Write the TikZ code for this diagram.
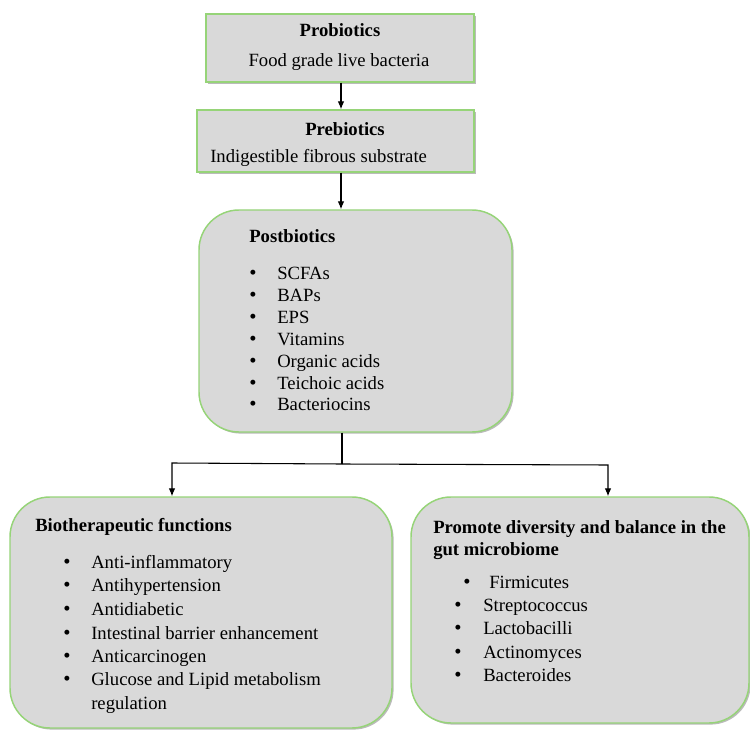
\documentclass[tikz,border=0pt]{standalone}
\usepackage{fontspec}
\setmainfont{Liberation Serif}
\usetikzlibrary{arrows.meta,shadows}
\definecolor{boxfill}{RGB}{217,217,217}
\definecolor{boxline}{RGB}{150,212,120}
\begin{document}
\begin{tikzpicture}[x=0.75pt,y=-0.75pt,
  box/.style={draw=boxline,line width=1.1pt,fill=boxfill,inner sep=0pt,
    drop shadow={shadow xshift=1.2pt,shadow yshift=-1.2pt,fill=black!45,opacity=0.6}},
  rbox/.style={box,rounded corners=30pt},
  txt/.style={inner sep=0pt,font=\fontsize{14}{16}\selectfont,text height=12pt,text depth=3pt},
  ttl/.style={txt,font=\fontsize{14}{16}\selectfont\bfseries},
  bul/.style={txt,font=\fontsize{15.5}{16}\selectfont},
  conn/.style={draw=black,line width=0.8pt},
  arr/.style={conn,-{Latex[length=6pt,width=5pt]}}]
\useasboundingbox[fill=white] (0,0) rectangle (750,731);

% boxes
\node[box,minimum width=201pt,minimum height=51pt] (pro) at (340,48) {};
\node[box,minimum width=207.75pt,minimum height=46.5pt] (pre) at (335.5,141) {};
\node[rbox,minimum width=234.75pt,minimum height=166.5pt] (post) at (355.5,321) {};
\node[rbox,minimum width=286.5pt,minimum height=173.25pt] (left) at (201,612.5) {};
\node[rbox,minimum width=253.5pt,minimum height=169.5pt] (right) at (580,610) {};

% texts
\node[ttl] (t1) at (340,31) {Probiotics};
\node[txt] (t2) at (339,61) {Food grade live bacteria};
\node[ttl] (t3) at (345,130) {Prebiotics};
\node[txt,anchor=west] (t4) at (210,157) {Indigestible fibrous substrate};
\node[ttl,anchor=west] (t5) at (249,237) {Postbiotics};
\foreach \y/\t [count=\i] in {273/SCFAs,295/BAPs,317/EPS,339/Vitamins,361/Organic acids,383/Teichoic acids,404/Bacteriocins}{
  \node[bul] (pb\i) at (253,\y) {\textbullet};
  \node[txt,anchor=west] (pt\i) at (277,\y) {\t};
}
\node[ttl,anchor=west] (t6) at (35,525) {Biotherapeutic functions};
\foreach \y/\t [count=\i] in {562/Anti-inflammatory,585/Antihypertension,609/Antidiabetic,633/Intestinal barrier enhancement,656/Anticarcinogen,679/Glucose and Lipid metabolism}{
  \node[bul] (lb\i) at (67,\y) {\textbullet};
  \node[txt,anchor=west] (lt\i) at (91,\y) {\t};
}
\node[txt,anchor=west] (lt7) at (91,703) {regulation};
\node[ttl,anchor=west] (t7) at (433,527) {Promote diversity and balance in the};
\node[ttl,anchor=west] (t8) at (433,549) {gut microbiome};
\node[bul] (rb1) at (467,582) {\textbullet};
\node[txt,anchor=west] (rt1) at (489,582) {Firmicutes};
\foreach \y/\t [count=\i from 2] in {605/Streptococcus,628/Lactobacilli,652/Actinomyces,675/Bacteroides}{
  \node[bul] (rb\i) at (458,\y) {\textbullet};
  \node[txt,anchor=west] (rt\i) at (483,\y) {\t};
}

% connectors
\coordinate (c1) at (341,0);
\coordinate (j) at (342,464);
\coordinate (la) at (172,463);
\coordinate (ra) at (608,465);
\draw[arr] (c1 |- pro.south) -- (c1 |- pre.north);
\draw[arr] (c1 |- pre.south) -- (c1 |- post.north);
\draw[conn] (j |- post.south) -- (j);
\draw[arr] (j) -- (la) -- (la |- left.north);
\draw[arr] (j) -- (ra) -- (ra |- right.north);
\end{tikzpicture}
\end{document}
